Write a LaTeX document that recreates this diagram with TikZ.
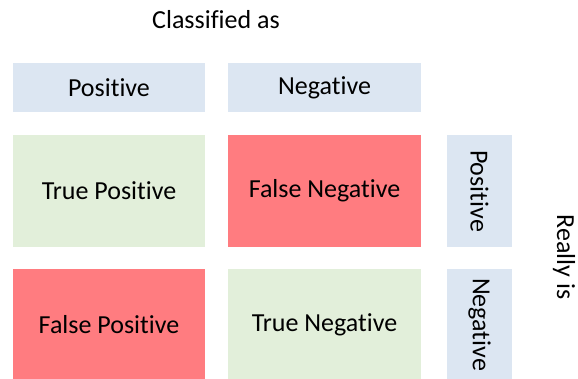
\documentclass[tikz,border=0pt]{standalone}
\usepackage{fontspec}
\setmainfont{Carlito}[RawFeature={-liga}]
\definecolor{hdrblue}{RGB}{220,230,242}
\definecolor{cellgreen}{RGB}{226,239,218}
\definecolor{cellred}{RGB}{255,124,128}
\tikzset{
  cell/.style={inner sep=0pt, outer sep=0pt, text=black, font=\fontsize{26}{30}\selectfont},
  hdr/.style={cell, fill=hdrblue},
  good/.style={cell, fill=cellgreen},
  bad/.style={cell, fill=cellred},
  lbl/.style={inner sep=0pt, text=black, font=\fontsize{26}{30}\selectfont}
}
\begin{document}
\begin{tikzpicture}[x=1pt,y=-1pt]
\useasboundingbox (0,0) rectangle (578,378);
\clip (0,0) rectangle (578,378);
\node[lbl] (classified) at (216,20) {Classified as};
\node[hdr, minimum width=192pt, minimum height=49pt] (hpos) at (109,87.5) {Positive};
\node[hdr, minimum width=193pt, minimum height=49pt] (hneg) at (324.5,87.5) {Negative};
\node[good, minimum width=192pt, minimum height=112pt] (tp) at (109,191) {True Positive};
\node[bad, minimum width=193pt, minimum height=112pt] (fn) at (324.5,191) {False Negative};
\node[bad, minimum width=192pt, minimum height=112pt] (fp) at (109,325) {False Positive};
\node[good, minimum width=193pt, minimum height=112pt] (tn) at (324.5,325) {True Negative};
\node[hdr, minimum width=112pt, minimum height=65pt, rotate=-90] (rpos) at (479.5,191) {Positive};
\node[hdr, minimum width=112pt, minimum height=65pt, rotate=-90] (rneg) at (479.5,324.5) {Negative};
\node[lbl, rotate=-90] (really) at (564,257) {Really is};
\end{tikzpicture}
\end{document}
